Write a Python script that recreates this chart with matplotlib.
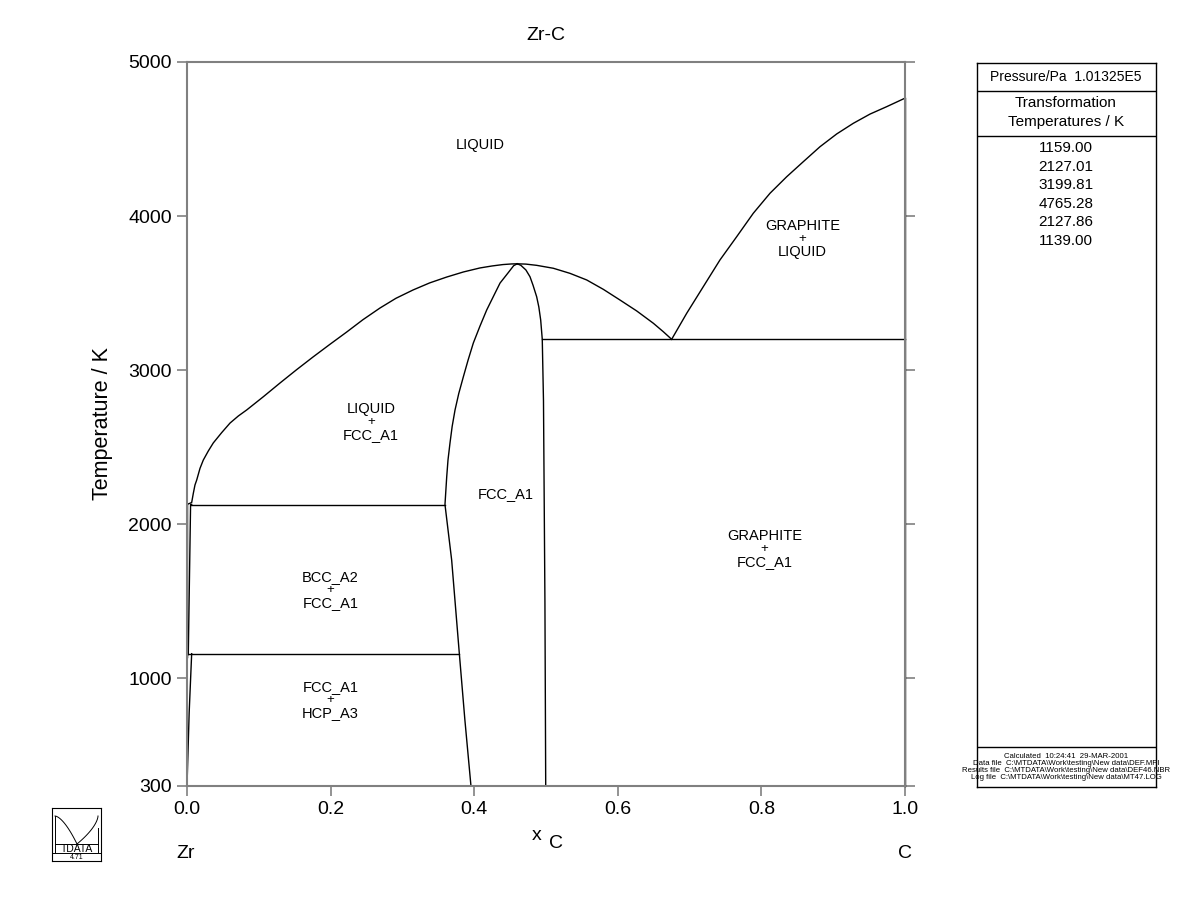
import numpy as np
import matplotlib.pyplot as plt

plt.rcParams['font.family'] = ['Liberation Sans', 'DejaVu Sans']

# phase boundaries (x_C, T/K)
liq_zr_x = [0.0, 0.0065, 0.0088, 0.0111, 0.0135, 0.0181, 0.0227, 0.0297, 0.0366, 0.0483,
            0.0599, 0.0715, 0.0831, 0.1063, 0.1295, 0.1525, 0.1755, 0.199, 0.2224, 0.245,
            0.2688, 0.291, 0.3148, 0.338, 0.3617, 0.385, 0.408, 0.425, 0.440, 0.452, 0.460]
liq_zr_T = [2127.86, 2140, 2200, 2254, 2286, 2362, 2416, 2475, 2527, 2594,
            2656, 2702, 2741, 2827, 2916, 3002, 3085, 3167, 3247, 3327,
            3403, 3466, 3520, 3566, 3604, 3637, 3663, 3676, 3685, 3689, 3690]

liq_c_x = [0.460, 0.472, 0.487, 0.5102, 0.5334, 0.5567, 0.5799, 0.603, 0.6263, 0.6495,
           0.6634, 0.675]
liq_c_T = [3690, 3688, 3680, 3661, 3628, 3585, 3524, 3455, 3384, 3304,
           3249, 3199.81]

graph_liq_x = [0.675, 0.696, 0.719, 0.7423, 0.7656, 0.7887, 0.812, 0.8352, 0.8584,
               0.8816, 0.9049, 0.928, 0.9513, 0.9745, 1.0]
graph_liq_T = [3199.81, 3369, 3541, 3715, 3866, 4018, 4148, 4255, 4353,
               4450, 4533, 4602, 4662, 4710, 4765.28]

fcc_left_x = [0.460, 0.455, 0.447, 0.436, 0.428, 0.4174, 0.408, 0.3988, 0.3915, 0.3848,
              0.3785, 0.3733, 0.3693, 0.3663, 0.3635, 0.3617, 0.3593, 0.3686, 0.3793,
              0.387, 0.3955]
fcc_left_T = [3690, 3678, 3630, 3565, 3490, 3390, 3285, 3176, 3065, 2955,
              2848, 2741, 2634, 2527, 2416, 2306, 2127.01, 1767, 1159,
              730, 300]

fcc_right_x = [0.460, 0.465, 0.472, 0.4777, 0.482, 0.487, 0.490, 0.4926, 0.4948, 0.4965,
               0.4985, 0.4996]
fcc_right_T = [3690, 3680, 3650, 3606, 3550, 3476, 3410, 3325, 3199.81, 2800,
               1500, 300]

bcc_solvus_x = [0.0, 0.0018, 0.005, 0.0065]
bcc_solvus_T = [1139.0, 1159.0, 2127.01, 2127.86]
hcp_solvus_x = [0.0, 0.003, 0.0065]
hcp_solvus_T = [300, 774, 1159.0]

# invariant lines: (x_start, x_end, T)
invariants = [(0.4948, 1.0, 3199.81), (0.005, 0.3593, 2127.01), (0.0, 0.3793, 1159.0)]

# region labels: (x, T, top, bottom)
labels3 = [(0.857, 3851, 'GRAPHITE', 'LIQUID'),
           (0.256, 2663, 'LIQUID', 'FCC_A1'),
           (0.804, 1838, 'GRAPHITE', 'FCC_A1'),
           (0.200, 1572, 'BCC_A2', 'FCC_A1'),
           (0.200, 858, 'FCC_A1', 'HCP_A3')]
labels1 = [(0.408, 4461, 'LIQUID'), (0.444, 2196, 'FCC_A1')]

trans_temps = ['1159.00', '2127.01', '3199.81', '4765.28', '2127.86', '1139.00']
footer = ['Calculated  10:24:41  29-MAR-2001',
          'Data file  C:\\MTDATA\\Work\\testing\\New data\\DEF.MPI',
          'Results file  C:\\MTDATA\\Work\\testing\\New data\\DEF46.NBR',
          'Log file  C:\\MTDATA\\Work\\testing\\New data\\MT47.LOG']

W, H = 1200, 923


def box(x0, y0, x1, y1):
    # pixel box (top-left origin) -> figure fraction rect
    return [x0 / W, 1 - y1 / H, (x1 - x0) / W, (y1 - y0) / H]


fig = plt.figure(figsize=(12, 9.23), dpi=100)
ax = fig.add_axes(box(187, 62, 905, 786))
ax.set_xlim(0, 1)
ax.set_ylim(300, 5000)

lk = dict(color='black', lw=1.0, clip_on=False, solid_joinstyle='round')
ax.plot(liq_zr_x, liq_zr_T, **lk)
ax.plot(liq_c_x, liq_c_T, **lk)
ax.plot(graph_liq_x, graph_liq_T, **lk)
ax.plot(fcc_left_x, fcc_left_T, **lk)
ax.plot(fcc_right_x, fcc_right_T, **lk)
ax.plot(bcc_solvus_x, bcc_solvus_T, **lk)
ax.plot(hcp_solvus_x, hcp_solvus_T, **lk)
for xa, xb, T in invariants:
    ax.plot([xa, xb], [T, T], **lk)
ax.plot([0, 0], [1139.0, 2127.86], **lk)
ax.plot([1, 1], [300, 4765.28], **lk)

for x, T, top, bot in labels3:
    ax.annotate(top, (x, T), xytext=(0, 9.5), textcoords='offset points',
                ha='center', va='center', fontsize=10.5)
    ax.annotate('+', (x, T), ha='center', va='center', fontsize=9.5)
    ax.annotate(bot, (x, T), xytext=(0, -9.5), textcoords='offset points',
                ha='center', va='center', fontsize=10.5)
for x, T, txt in labels1:
    ax.text(x, T, txt, ha='center', va='center', fontsize=10.5)

ax.set_xticks([0, 0.2, 0.4, 0.6, 0.8, 1.0])
ax.set_xticklabels(['0.0', '0.2', '0.4', '0.6', '0.8', '1.0'])
ax.set_yticks([300, 1000, 2000, 3000, 4000, 5000])
ax.tick_params(axis='both', direction='out', length=7, width=1.2, color='#808080',
               labelsize=14, pad=4)
ax.tick_params(axis='y', right=True, labelright=False)
for s in ax.spines.values():
    s.set_color('#808080')
    s.set_linewidth(1.5)

ax.set_ylabel('Temperature / K', fontsize=15.5, labelpad=11)
fig.text(546 / W, 1 - 35 / H, 'Zr-C', ha='center', va='center', fontsize=14)
fig.text(537 / W, 1 - 836 / H, 'x', ha='center', va='center', fontsize=14)
fig.text(556 / W, 1 - 844 / H, 'C', ha='center', va='center', fontsize=14)
fig.text(186 / W, 1 - 853 / H, 'Zr', ha='center', va='center', fontsize=14)
fig.text(905 / W, 1 - 853 / H, 'C', ha='center', va='center', fontsize=14)

# side panel in pixel coordinates
pan = fig.add_axes(box(977, 63, 1156, 787))
pan.set_xlim(977, 1156)
pan.set_ylim(787, 63)
pan.set_xticks([])
pan.set_yticks([])
for s in pan.spines.values():
    s.set_linewidth(1.0)
for yy in [91, 136, 747]:
    pan.axhline(yy, color='black', lw=1.0)
pan.text(1066, 77, 'Pressure/Pa  1.01325E5', ha='center', va='center', fontsize=10)
pan.text(1066, 103, 'Transformation', ha='center', va='center', fontsize=11)
pan.text(1066, 122, 'Temperatures / K', ha='center', va='center', fontsize=11)
for i, t in enumerate(trans_temps):
    pan.text(1066, 148 + i * 18.5, t, ha='center', va='center', fontsize=11)
for i, t in enumerate(footer):
    pan.text(1066, 756 + i * 7.3, t, ha='center', va='center', fontsize=5.6, clip_on=False)

# MTDATA logo
logo = fig.add_axes(box(52, 808, 101, 861))
logo.set_xlim(0, 49)
logo.set_ylim(53, 0)
logo.set_xticks([])
logo.set_yticks([])
for s in logo.spines.values():
    s.set_linewidth(0.8)
t = np.linspace(0, 1, 40)
logo.plot(3 + 22 * t, 8 + 28 * t ** 1.6, color='black', lw=0.7)
logo.plot(25 + 21 * (1 - (1 - t) ** 1.6), 36 - 28 * t, color='black', lw=0.7)
logo.plot([3, 3], [8, 44], color='black', lw=0.7)
logo.plot([46, 46], [20, 44], color='black', lw=0.7)
logo.plot([3, 46], [36, 36], color='black', lw=0.7)
logo.axhline(45, color='black', lw=0.7)
logo.text(25, 40.5, 'TDATA', ha='center', va='center', fontsize=7.5)
logo.text(25, 49.5, '4.71', ha='center', va='center', fontsize=5)

fig.savefig('out.png', dpi=100)
